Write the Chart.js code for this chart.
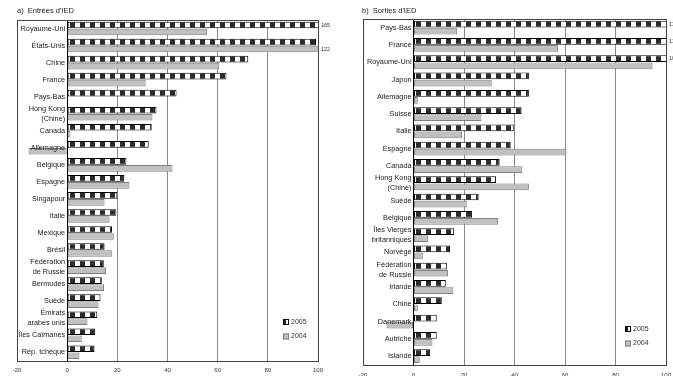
<!DOCTYPE html>
<html>
<head>
<meta charset="utf-8">
<title>Entrées et sorties d'IED</title>
<script src="https://cdn.jsdelivr.net/npm/chart.js"></script>
<style>
    body { margin: 0; background: #fff; font-family: 'Liberation Sans', Arial, sans-serif; }
    #wrap { position: relative; width: 673px; height: 376px; overflow: hidden; }
    canvas { position: absolute; top: 0; }
    .title { position: absolute; top: 6px; font-size: 7.5px; color: #222; white-space: pre; }
</style>
</head>
<body>
<div id="wrap">
    <canvas id="chartA" width="336" height="380" style="left:0"></canvas>
    <canvas id="chartB" width="345" height="387" style="left:336px"></canvas>
    <div class="title" style="left:17px">a)  Entrées d'IED</div>
    <div class="title" style="left:362px">b)  Sorties d'IED</div>
</div>
<script>
// a) Entrées d'IED (milliards USD)
const entreesPays = ['Royaume-Uni', 'États-Unis', 'Chine', 'France', 'Pays-Bas', ['Hong Kong', '(Chine)'],
    'Canada', 'Allemagne', 'Belgique', 'Espagne', 'Singapour', 'Italie', 'Mexique', 'Brésil',
    ['Fédération', 'de Russie'], 'Bermudes', 'Suède', ['Émirats', 'arabes unis'], 'Îles Caïmanes', 'Rép. tchèque'];
const entrees2005 = [165, 99.2, 72.2, 63.5, 43.6, 35.6, 33.7, 32.5, 23.6, 22.8, 20, 19.6, 17.9, 14.9, 14.6, 13.8, 13.3, 12, 11.2, 10.9];
const entrees2004 = [55.8, 122, 60.6, 31.3, 0, 34, 1.3, -15.4, 42, 24.8, 14.9, 16.9, 18.6, 18, 15.5, 14.7, 12.5, 8.1, 5.8, 4.9];

// b) Sorties d'IED
const sortiesPays = ['Pays-Bas', 'France', 'Royaume-Uni', 'Japon', 'Allemagne', 'Suisse', 'Italie', 'Espagne',
    'Canada', ['Hong Kong', '(Chine)'], 'Suède', 'Belgique', ['Îles Vierges', 'britanniques'], 'Norvège',
    ['Fédération', 'de Russie'], 'Irlande', 'Chine', 'Danemark', 'Autriche', 'Islande'];
const sorties2005 = [119, 115, 101, 45.7, 45.7, 42.8, 39.7, 38.5, 34.1, 32.7, 25.8, 23.2, 16.1, 14.5, 13.2, 12.8, 11.2, 9.2, 9.2, 6.6];
const sorties2004 = [17.3, 57.2, 94.7, 31, 1.7, 26.9, 19.2, 60.6, 43.1, 45.7, 21.1, 33.5, 5.8, 3.7, 13.7, 15.8, 1.7, -10.7, 7.5, 2.5];

const axisMin = -20;
const axisMax = 100;
const axisStep = 20;
const serieLabels = ['2005', '2004'];

const FONT = "'Liberation Sans', Arial, sans-serif";
const GREY = '#c0c0c0';

// striped fill for the 2005 bars
function stripePattern() {
    const c = document.createElement('canvas');
    c.width = 10; c.height = 8;
    const g = c.getContext('2d');
    g.fillStyle = '#fff';
    g.fillRect(0, 0, 10, 8);
    g.fillStyle = '#2b2b2b';
    g.fillRect(0, 0, 5, 8);
    return g.createPattern(c, 'repeat');
}
const stripes = stripePattern();

// frame, category names next to the zero line, clipped values, legend
const panelDecor = {
    id: 'panelDecor',
    afterDatasetsDraw(chart, args, opts) {
        const { ctx, chartArea: area, scales: { x, y } } = chart;
        ctx.save();
        ctx.strokeStyle = '#444';
        ctx.lineWidth = 1;
        ctx.strokeRect(Math.round(area.left) + 0.5, Math.round(area.top) + 0.5,
            Math.round(area.right - area.left), Math.round(area.bottom - area.top));

        // category labels
        const x0 = x.getPixelForValue(0) - 2;
        ctx.fillStyle = '#222';
        ctx.font = '7.3px ' + FONT;
        ctx.textAlign = 'right';
        ctx.textBaseline = 'middle';
        chart.data.labels.forEach((lab, i) => {
            const lines = Array.isArray(lab) ? lab : [lab];
            const yc = y.getPixelForValue(i);
            lines.forEach((line, k) => {
                ctx.fillText(line, x0, yc + (k - (lines.length - 1) / 2) * 10);
            });
        });

        // values beyond the axis
        ctx.font = '5.5px ' + FONT;
        ctx.textAlign = 'left';
        ctx.fillStyle = '#333';
        chart.data.datasets.forEach((ds, d) => {
            const meta = chart.getDatasetMeta(d);
            ds.data.forEach((v, i) => {
                if (v > x.max) ctx.fillText(String(v), area.right + 3, meta.data[i].y);
            });
        });

        // legend
        const lx = opts.x, ly = opts.y;
        ctx.font = '7px ' + FONT;
        chart.data.datasets.forEach((ds, d) => {
            const by = ly + d * 14.5;
            ctx.fillStyle = d === 0 ? '#fff' : GREY;
            ctx.fillRect(lx, by - 3, 6, 6);
            if (d === 0) {
                ctx.fillStyle = '#222';
                ctx.fillRect(lx, by - 3, 3, 6);
            }
            ctx.strokeStyle = d === 0 ? '#000' : '#808080';
            ctx.strokeRect(lx + 0.5, by - 2.5, 5, 5);
            ctx.fillStyle = '#333';
            ctx.fillText(ds.label, lx + 8, by);
        });
        ctx.restore();
    }
};

function makeChart(id, pays, d2005, d2004, pad, tickPad, legendPos) {
    return new Chart(document.getElementById(id), {
        type: 'bar',
        data: {
            labels: pays,
            datasets: [{
                label: serieLabels[0],
                data: d2005,
                backgroundColor: stripes,
                borderColor: '#000',
                borderWidth: 1,
                borderSkipped: false
            }, {
                label: serieLabels[1],
                data: d2004,
                backgroundColor: GREY,
                borderColor: '#808080',
                borderWidth: 1,
                borderSkipped: false
            }]
        },
        options: {
            indexAxis: 'y',
            responsive: false,
            animation: false,
            events: [],
            categoryPercentage: 0.82,
            barPercentage: 0.95,
            layout: { padding: pad },
            plugins: {
                legend: { display: false },
                tooltip: { enabled: false },
                panelDecor: legendPos
            },
            scales: {
                x: {
                    min: axisMin,
                    max: axisMax,
                    ticks: { stepSize: axisStep, padding: tickPad, color: '#333', font: { size: 6, family: FONT } },
                    grid: {
                        drawTicks: false,
                        color: c => c.tick && c.tick.value === 0 ? '#000' : '#8a8a8a',
                        lineWidth: 1
                    },
                    border: { display: false }
                },
                y: { display: false, grid: { display: false } }
            }
        },
        plugins: [panelDecor]
    });
}

makeChart('chartA', entreesPays, entrees2005, entrees2004,
    { left: 17, right: 18, top: 20, bottom: 0 }, 6, { x: 283, y: 322 });
makeChart('chartB', sortiesPays, sorties2005, sorties2004,
    { left: 27, right: 15, top: 19, bottom: 1 }, 7, { x: 289, y: 329 });
</script>
</body>
</html>
